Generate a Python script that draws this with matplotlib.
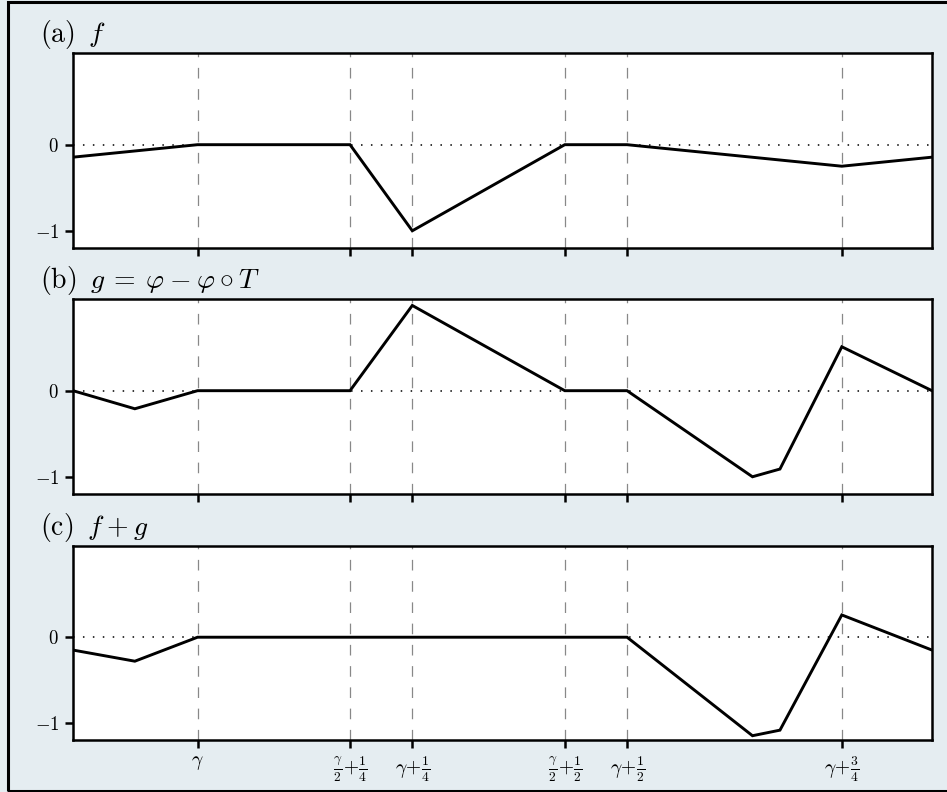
import numpy as np
import matplotlib
matplotlib.use("Agg")
import matplotlib.pyplot as plt
from matplotlib.patches import Rectangle

plt.rcParams['mathtext.fontset'] = 'cm'
plt.rcParams['font.family'] = 'serif'
plt.rcParams['font.serif'] = ['cmr10', 'DejaVu Serif']
plt.rcParams['axes.unicode_minus'] = False

GAMMA = 0.145

# break points (x positions) of the piecewise-linear functions
tick_pos = [GAMMA, GAMMA / 2 + 0.25, GAMMA + 0.25, GAMMA / 2 + 0.5, GAMMA + 0.5, GAMMA + 0.75]
tick_labels = [r'$\gamma$',
               r'$\frac{\gamma}{2}\!+\!\frac{1}{4}$',
               r'$\gamma\!+\!\frac{1}{4}$',
               r'$\frac{\gamma}{2}\!+\!\frac{1}{2}$',
               r'$\gamma\!+\!\frac{1}{2}$',
               r'$\gamma\!+\!\frac{3}{4}$']

# (a) f
f_x = [0.0, GAMMA, GAMMA / 2 + 0.25, GAMMA + 0.25, GAMMA / 2 + 0.5, GAMMA + 0.5, GAMMA + 0.75, 1.0]
f_y = [-0.145, 0.0, 0.0, -1.0, 0.0, 0.0, -0.25, -0.145]

# (b) g = phi - phi o T
g_x = [0.0, 0.072, GAMMA, GAMMA / 2 + 0.25, GAMMA + 0.25, GAMMA / 2 + 0.5, GAMMA + 0.5,
       0.791, 0.823, GAMMA + 0.75, 1.0]
g_y = [0.0, -0.21, 0.0, 0.0, 0.99, 0.0, 0.0, -1.0, -0.91, 0.51, 0.0]

# (c) f + g
fg_x = [0.0, 0.072, GAMMA, GAMMA + 0.5, 0.791, 0.823, GAMMA + 0.75, 1.0]
fg_y = [-0.15, -0.28, 0.0, 0.0, -1.15, -1.085, 0.26, -0.15]

titles = [r'(a) $\,f$', r'(b) $\,g\:=\:\varphi\:-\:\varphi\circ T$', r'(c) $\,f\:+\:g$']
series = [(f_x, f_y), (g_x, g_y), (fg_x, fg_y)]

BG = '#e5edf1'
W, H = 947, 792
fig = plt.figure(figsize=(W / 100, H / 100), dpi=100, facecolor=BG)

# axes boxes in pixels: (top, bottom)
boxes = [(53, 248), (299, 494), (546, 740)]
left_px, right_px = 73, 932

for i, ((top, bot), (xs, ys), title) in enumerate(zip(boxes, series, titles)):
    ax = fig.add_axes([left_px / W, 1 - bot / H, (right_px - left_px) / W, (bot - top) / H])
    ax.set_facecolor('white')
    for x in tick_pos:
        ax.axvline(x, color='#888888', lw=0.9, ls=(0, (8.5, 8.5)), zorder=1)
    ax.axhline(0, color='black', lw=1.1, ls=(0, (1, 5.5)), zorder=1)
    ax.plot(xs, ys, color='black', lw=2.1, zorder=3, solid_joinstyle='miter')
    ax.set_xlim(0, 1)
    ax.set_ylim(-1.2, 1.065)
    ax.set_yticks([0, -1])
    ax.set_yticklabels([r'$0$', r'$-1$'], fontsize=13.5)
    ax.set_xticks(tick_pos)
    if i == 2:
        ax.set_xticklabels(tick_labels, fontsize=14)
    else:
        ax.set_xticklabels([])
    ax.tick_params(direction='out', length=6, width=1.8, pad=4)
    for sp in ax.spines.values():
        sp.set_linewidth(1.8)
    ax.text(-0.038, 1.055, title, transform=ax.transAxes, fontsize=20,
            ha='left', va='baseline')

# outer frame (cut off on the right like the original)
fig.patches.append(Rectangle((7.5 / W, 1.5 / H), 1.2, (H - 3) / H, transform=fig.transFigure,
                             fill=False, edgecolor='black', lw=2.2))

fig.savefig('out.png', dpi=100, facecolor=BG)
